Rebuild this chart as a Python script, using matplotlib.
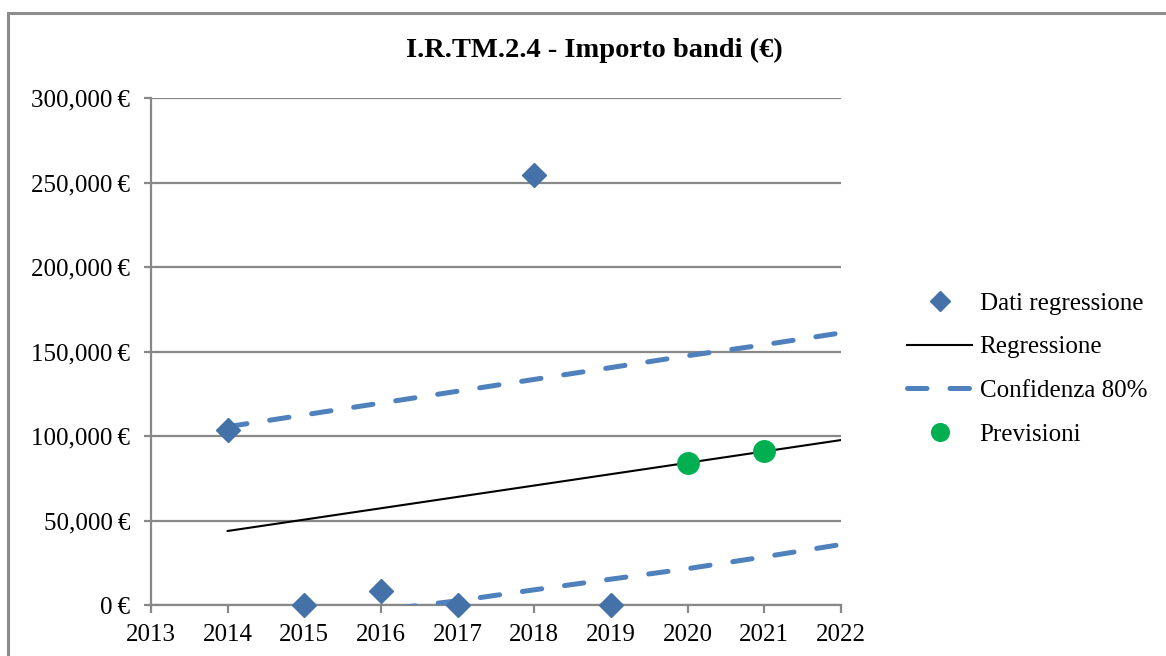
import matplotlib
matplotlib.use("Agg")
import matplotlib.pyplot as plt
from matplotlib.ticker import FuncFormatter, MultipleLocator
from matplotlib.patches import Rectangle

plt.rcParams['font.family'] = ['Liberation Serif', 'DejaVu Serif']

title = "I.R.TM.2.4 - Importo bandi (€)"
data_years = [2014, 2015, 2016, 2017, 2018, 2019]
data_values = [103500, 0, 8500, 0, 254500, 0]
reg_years = [2014, 2022]
reg_values = [43800, 97600]
band_years = [2014, 2015, 2016, 2017, 2018, 2019, 2020, 2021, 2022]
upper_values = [105500, 112500, 119500, 126500, 133500, 140500, 147500, 154000, 161000]
lower_values = [-16000, -9500, -3000, 2500, 9000, 15300, 21500, 28500, 35800]
fc_years = [2020, 2021]
fc_values = [84300, 90900]
labels = ["Dati regressione", "Regressione", "Confidenza 80%", "Previsioni"]

blue = "#4F81BD"
dblue = "#4472A8"
green = "#00B050"
grey = "#888888"

fig = plt.figure(figsize=(11.66, 6.56), dpi=100)
ax = fig.add_axes([151/1166, 1 - 605/656, (841 - 151)/1166, (605 - 98)/656])

# border around chart area
fig.patches.append(Rectangle((8/1166, -0.05), 1.2, 1 - 13/656 + 0.05, transform=fig.transFigure,
                             fill=False, edgecolor="#8c8c8c", linewidth=2.2, clip_on=False))

fs = 18
ax.set_xlim(2013, 2022)
ax.set_ylim(0, 300000)
ax.xaxis.set_major_locator(MultipleLocator(1))
ax.yaxis.set_major_locator(MultipleLocator(50000))
ax.yaxis.set_major_formatter(FuncFormatter(lambda v, p: f"{v:,.0f}\u2009€"))
ax.xaxis.set_major_formatter(FuncFormatter(lambda v, p: f"{int(round(v))}"))
ax.grid(axis='y', color=grey, linewidth=1.6)
ax.set_axisbelow(True)
for s in ['top', 'right']:
    ax.spines[s].set_visible(False)
for s in ['left', 'bottom']:
    ax.spines[s].set_color(grey)
    ax.spines[s].set_linewidth(1.6)
ax.tick_params(axis='both', colors=grey, labelcolor='black', labelsize=fs, width=1.6)
ax.tick_params(axis='y', length=5, pad=10)
ax.tick_params(axis='x', length=6, pad=8)

l_up, = ax.plot(band_years, upper_values, color=blue, linewidth=3.6, dashes=(3.9, 4.6),
                dash_capstyle='round', label=labels[2], zorder=3)
ax.plot(band_years, lower_values, color=blue, linewidth=3.6, dashes=(3.9, 4.6),
        dash_capstyle='round', zorder=3)
l_reg, = ax.plot(reg_years, reg_values, color='black', linewidth=1.5, label=labels[1], zorder=3)
l_dat, = ax.plot(data_years, data_values, linestyle='none', marker='D', markersize=12,
                 color=dblue, label=labels[0], clip_on=False, zorder=4)
l_fc, = ax.plot(fc_years, fc_values, linestyle='none', marker='o', markersize=15.5,
                color=green, label=labels[3], clip_on=False, zorder=5)

leg = fig.legend(handles=[l_dat, l_reg, l_up, l_fc], labels=labels, loc='center left',
                 bbox_to_anchor=(907/1166, 1 - 369/656), frameon=False, fontsize=fs,
                 handlelength=2.6, handletextpad=0.3, labelspacing=0.85, markerscale=0.82,
                 borderpad=0, borderaxespad=0)

fig.text(594/1166, 1 - 50/656, title, ha='center', va='center', fontsize=20.5, fontweight='bold')

fig.savefig("out.png", dpi=100)
